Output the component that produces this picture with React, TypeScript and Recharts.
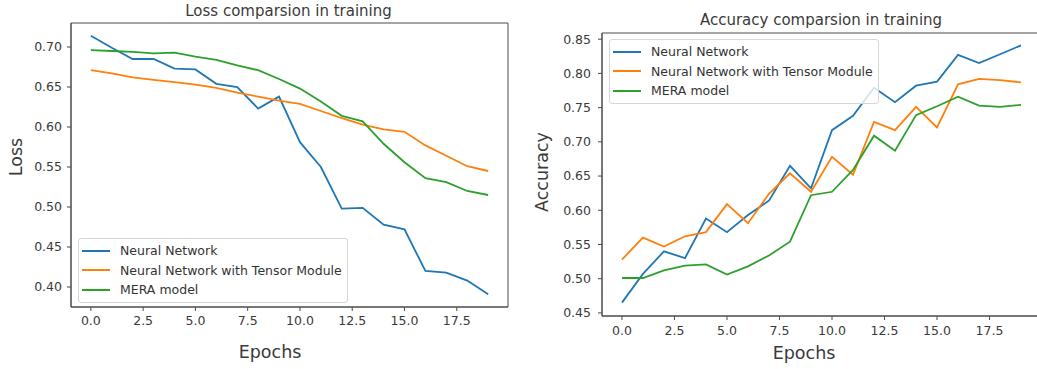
import { Line, LineChart, ReferenceArea, XAxis, YAxis } from "recharts";

const epochs = [0, 1, 2, 3, 4, 5, 6, 7, 8, 9, 10, 11, 12, 13, 14, 15, 16, 17, 18, 19];
const epochTicks = [0, 2.5, 5, 7.5, 10, 12.5, 15, 17.5];

const lossNN = [0.714, 0.699, 0.685, 0.685, 0.673, 0.672, 0.654, 0.65, 0.623, 0.638, 0.581, 0.55, 0.498, 0.499, 0.478, 0.472, 0.42, 0.418, 0.408, 0.391];
const lossTensor = [0.671, 0.667, 0.662, 0.659, 0.656, 0.653, 0.649, 0.643, 0.638, 0.633, 0.629, 0.62, 0.611, 0.603, 0.597, 0.594, 0.577, 0.564, 0.551, 0.545];
const lossMera = [0.696, 0.695, 0.694, 0.692, 0.693, 0.688, 0.684, 0.677, 0.671, 0.66, 0.648, 0.632, 0.614, 0.607, 0.579, 0.556, 0.536, 0.531, 0.52, 0.515];
const lossTicks = [0.4, 0.45, 0.5, 0.55, 0.6, 0.65, 0.7];

const accNN = [0.465, 0.507, 0.54, 0.53, 0.588, 0.568, 0.593, 0.614, 0.665, 0.632, 0.717, 0.738, 0.779, 0.758, 0.782, 0.788, 0.827, 0.815, 0.828, 0.841];
const accTensor = [0.528, 0.56, 0.547, 0.562, 0.568, 0.609, 0.581, 0.624, 0.654, 0.627, 0.678, 0.652, 0.729, 0.717, 0.751, 0.721, 0.784, 0.792, 0.79, 0.787];
const accMera = [0.501, 0.501, 0.512, 0.519, 0.521, 0.506, 0.518, 0.534, 0.554, 0.622, 0.627, 0.659, 0.709, 0.687, 0.739, 0.752, 0.766, 0.753, 0.751, 0.754];
const accTicks = [0.45, 0.5, 0.55, 0.6, 0.65, 0.7, 0.75, 0.8, 0.85];

const seriesNames = ["Neural Network", "Neural Network with Tensor Module", "MERA model"];
const seriesColors = ["#1f77b4", "#ff7f0e", "#2ca02c"];

const lossData = epochs.map((e, i) => ({ epoch: e, nn: lossNN[i], tensor: lossTensor[i], mera: lossMera[i] }));
const accData = epochs.map((e, i) => ({ epoch: e, nn: accNN[i], tensor: accTensor[i], mera: accMera[i] }));

const FONT = "'DejaVu Sans', sans-serif";
const tickStyle = { fill: "#3a3a3a", fontSize: 12.5, fontFamily: FONT };
const frame = "#4a4a4a";
const xDomain: [number, number] = [-0.95, 19.95];

function LegendBox({ left, top }: { left: number; top: number }) {
  return (
    <div
      style={{
        position: "absolute",
        left,
        top,
        background: "rgba(255,255,255,0.8)",
        border: "1px solid #d6d6d6",
        borderRadius: 3,
        padding: "2px 5px 2px 3px",
        fontFamily: FONT,
        fontSize: 12.5,
        color: "#333",
        whiteSpace: "nowrap",
      }}
    >
      {seriesNames.map((name, i) => (
        <div key={name} style={{ display: "flex", alignItems: "center", height: 19.5 }}>
          <span style={{ display: "inline-block", width: 28, height: 2, background: seriesColors[i], marginRight: 10 }} />
          <span>{name}</span>
        </div>
      ))}
    </div>
  );
}

interface PanelProps {
  data: { epoch: number; nn: number; tensor: number; mera: number }[];
  yDomain: [number, number];
  yTicks: number[];
  width: number;
  margin: { top: number; right: number; bottom: number; left: number };
  tickMarginY: number;
  tickMarginX: number;
}

function Panel({ data, yDomain, yTicks, width, margin, tickMarginY, tickMarginX }: PanelProps) {
  return (
    <LineChart width={width} height={369} data={data} margin={margin}>
      <XAxis
        dataKey="epoch"
        type="number"
        domain={xDomain}
        ticks={epochTicks}
        tickFormatter={(v: number) => v.toFixed(1)}
        tick={tickStyle}
        tickSize={4}
        tickMargin={tickMarginX}
        stroke={frame}
        height={30}
        allowDataOverflow
      />
      <YAxis
        type="number"
        domain={yDomain}
        ticks={yTicks}
        tickFormatter={(v: number) => v.toFixed(2)}
        tick={tickStyle}
        tickSize={4}
        tickMargin={tickMarginY}
        stroke={frame}
        width={40}
        allowDataOverflow
      />
      <ReferenceArea
        x1={xDomain[0]}
        x2={xDomain[1]}
        y1={yDomain[0]}
        y2={yDomain[1]}
        fill="none"
        stroke={frame}
        strokeWidth={1}
        ifOverflow="visible"
      />
      {(["nn", "tensor", "mera"] as const).map((key, i) => (
        <Line
          key={key}
          type="linear"
          dataKey={key}
          name={seriesNames[i]}
          stroke={seriesColors[i]}
          strokeWidth={1.8}
          dot={false}
          isAnimationActive={false}
        />
      ))}
    </LineChart>
  );
}

const labelStyle = { position: "absolute" as const, fontFamily: FONT, color: "#3a3a3a", whiteSpace: "nowrap" as const };

export default function App() {
  return (
    <div style={{ position: "absolute", left: 0, top: 0, width: 1037, height: 369, overflow: "hidden", background: "#fff" }}>
      <div style={{ position: "absolute", left: 0, top: 0 }}>
        <Panel
          data={lossData}
          yDomain={[0.375, 0.73]}
          yTicks={lossTicks}
          width={520}
          margin={{ top: 23, right: 12, bottom: 32, left: 31 }}
          tickMarginY={5}
          tickMarginX={5}
        />
      </div>
      <div style={{ position: "absolute", left: 540, top: 0 }}>
        <Panel
          data={accData}
          yDomain={[0.4455, 0.859]}
          yTicks={accTicks}
          width={506}
          margin={{ top: 33, right: 5, bottom: 23, left: 22 }}
          tickMarginY={7}
          tickMarginX={6}
        />
      </div>
      <LegendBox left={78} top={238} />
      <LegendBox left={609} top={39} />

      <div style={{ ...labelStyle, left: 288.5, top: 11, fontSize: 15, transform: "translate(-50%, -50%)" }}>
        Loss comparsion in training
      </div>
      <div style={{ ...labelStyle, left: 821, top: 20, fontSize: 15, transform: "translate(-50%, -50%)" }}>
        Accuracy comparsion in training
      </div>
      <div style={{ ...labelStyle, left: 16, top: 157, fontSize: 17.5, transform: "translate(-50%, -50%) rotate(-90deg)" }}>
        Loss
      </div>
      <div style={{ ...labelStyle, left: 270, top: 352, fontSize: 17.5, transform: "translate(-50%, -50%)" }}>
        Epochs
      </div>
      <div style={{ ...labelStyle, left: 542, top: 172, fontSize: 17.5, transform: "translate(-50%, -50%) rotate(-90deg)" }}>
        Accuracy
      </div>
      <div style={{ ...labelStyle, left: 804, top: 353, fontSize: 17.5, transform: "translate(-50%, -50%)" }}>
        Epochs
      </div>
    </div>
  );
}
